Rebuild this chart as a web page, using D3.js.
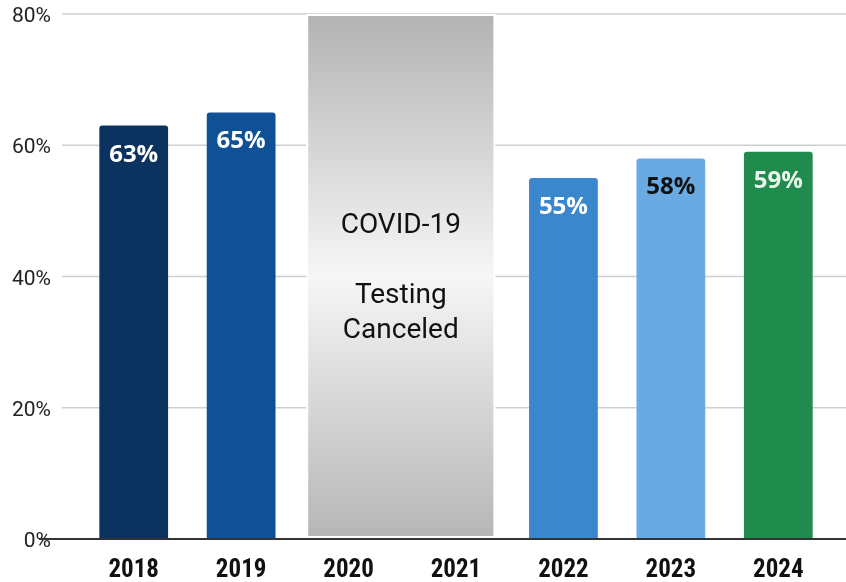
<!DOCTYPE html>
<html>
  <head>
    <meta charset="utf-8">
    <title>Testing results</title>
    <style type="text/css">
        html, body{
            padding: 0px;
            margin: 0px;
            background: #fff;
        }
        #chart{
            position: fixed;
            top: 0px;
            left: 0px;
        }
        .tick-label{
            font-family: Roboto, sans-serif;
            font-size: 21px;
            fill: #222;
        }
        .year-label{
            font-family: "Liberation Sans Narrow", "Roboto Condensed", "Liberation Sans", sans-serif;
            font-weight: bold;
            font-size: 25px;
            fill: #111;
        }
        .bar-label{
            font-family: "Open Sans", sans-serif;
            font-weight: 700;
            font-size: 24px;
        }
        .covid-text{
            font-family: Roboto, sans-serif;
            font-size: 28px;
            fill: #111;
        }
    </style>
  </head>
  <body>
    <div id="chart"></div>
    <script src="https://cdnjs.cloudflare.com/ajax/libs/d3/7.8.5/d3.min.js"></script>
    <script type="text/javascript">

        // data
        var years = ["2018", "2019", "2020", "2021", "2022", "2023", "2024"];
        var values = [63, 65, null, null, 55, 58, 59];
        var barColors = ["#0c335f", "#0f5096", null, null, "#3a87cd", "#6aaae2", "#1f8b4c"];
        var labelColors = ["#fff", "#fff", null, null, "#fff", "#111", "#eaf6ec"];
        var canceledYears = ["2020", "2021"];
        var canceledText = ["COVID-19", "", "Testing", "Canceled"];
        var yTicks = [0, 20, 40, 60, 80];

        var width = 846,
            height = 582;

        var svg = d3.select("#chart").append("svg")
            .attr("width", width)
            .attr("height", height);

        var x = d3.scaleBand()
            .domain(years)
            .range([80, 832])
            .paddingInner(0.36)
            .paddingOuter(0.18);

        var y = d3.scaleLinear()
            .domain([0, 80])
            .range([539, 14]);

        // gridlines + tick labels
        var grid = svg.append("g");
        grid.selectAll("line")
            .data(yTicks.filter(d => d > 0))
            .enter().append("line")
            .attr("x1", 62).attr("x2", width)
            .attr("y1", d => y(d)).attr("y2", d => y(d))
            .attr("stroke", "#cfcfcf")
            .attr("stroke-width", 1.5);

        grid.selectAll("text")
            .data(yTicks)
            .enter().append("text")
            .attr("class", "tick-label")
            .attr("x", 51)
            .attr("y", d => y(d) + 8)
            .attr("text-anchor", "end")
            .text(d => d + "%");

        // grey "testing canceled" panel over 2020-2021
        var defs = svg.append("defs");
        var grad = defs.append("linearGradient")
            .attr("id", "covidGrad")
            .attr("x1", 0).attr("y1", 0).attr("x2", 0).attr("y2", 1);
        grad.append("stop").attr("offset", "0%").attr("stop-color", "#b3b3b3");
        grad.append("stop").attr("offset", "50%").attr("stop-color", "#f6f6f6");
        grad.append("stop").attr("offset", "100%").attr("stop-color", "#b6b6b6");

        var cx0 = x(canceledYears[0]) - 7,
            cx1 = x(canceledYears[canceledYears.length - 1]) + x.bandwidth() + 4;

        svg.append("rect")
            .attr("x", cx0)
            .attr("y", y(80) + 1)
            .attr("width", cx1 - cx0)
            .attr("height", y(0) - y(80) - 3)
            .attr("fill", "url(#covidGrad)")
            .attr("stroke", "#fff")
            .attr("stroke-width", 2);

        svg.append("text")
            .attr("class", "covid-text")
            .attr("text-anchor", "middle")
            .selectAll("tspan")
            .data(canceledText)
            .enter().append("tspan")
            .attr("x", (cx0 + cx1) / 2)
            .attr("y", (d, i) => 233 + i * 35)
            .text(d => d);

        // bars with slightly rounded tops
        var data = years.map((yr, i) => ({year: yr, value: values[i], color: barColors[i], label: labelColors[i]}))
            .filter(d => d.value != null);

        function barPath(d){
            var x0 = x(d.year), w = x.bandwidth(), y0 = y(d.value), y1 = y(0), r = 3;
            return "M" + x0 + "," + y1 +
                "V" + (y0 + r) +
                "Q" + x0 + "," + y0 + " " + (x0 + r) + "," + y0 +
                "H" + (x0 + w - r) +
                "Q" + (x0 + w) + "," + y0 + " " + (x0 + w) + "," + (y0 + r) +
                "V" + y1 + "Z";
        }

        svg.append("g").selectAll("path")
            .data(data)
            .enter().append("path")
            .attr("d", barPath)
            .attr("fill", d => d.color);

        svg.append("g").selectAll("text")
            .data(data)
            .enter().append("text")
            .attr("class", "bar-label")
            .attr("x", d => x(d.year) + x.bandwidth() / 2)
            .attr("y", d => y(d.value) + 36)
            .attr("text-anchor", "middle")
            .attr("fill", d => d.label)
            .text(d => d.value + "%");

        // baseline
        svg.append("line")
            .attr("x1", 39).attr("x2", width)
            .attr("y1", y(0)).attr("y2", y(0))
            .attr("stroke", "#333")
            .attr("stroke-width", 2);

        // year labels
        svg.append("g").selectAll("text")
            .data(years)
            .enter().append("text")
            .attr("class", "year-label")
            .attr("x", d => x(d) + x.bandwidth() / 2)
            .attr("y", 577)
            .attr("text-anchor", "middle")
            .text(d => d);

    </script>
  </body>
</html>
